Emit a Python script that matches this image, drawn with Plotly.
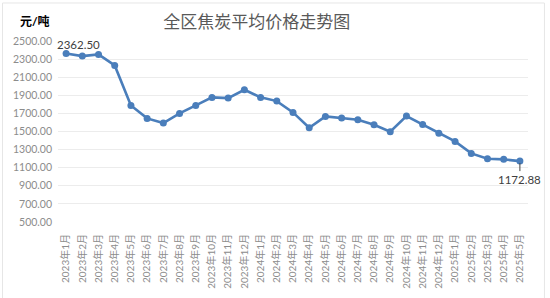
import plotly.graph_objects as go

months = [
    "2023年1月", "2023年2月", "2023年3月", "2023年4月", "2023年5月", "2023年6月",
    "2023年7月", "2023年8月", "2023年9月", "2023年10月", "2023年11月", "2023年12月",
    "2024年1月", "2024年2月", "2024年3月", "2024年4月", "2024年5月", "2024年6月",
    "2024年7月", "2024年8月", "2024年9月", "2024年10月", "2024年11月", "2024年12月",
    "2025年1月", "2025年2月", "2025年3月", "2025年4月", "2025年5月",
]
prices = [
    2362.50, 2333, 2352, 2230, 1788, 1645,
    1593, 1700, 1788, 1877, 1869, 1961,
    1877, 1836, 1711, 1541, 1667, 1648,
    1629, 1574, 1497, 1670, 1578, 1482,
    1390, 1258, 1198, 1192, 1172.88,
]
y_ticks = [500, 700, 900, 1100, 1300, 1500, 1700, 1900, 2100, 2300, 2500]

FONT = "Lato, 'Noto Sans CJK SC', sans-serif"
LINE_COLOR = "#4a7ebb"

fig = go.Figure()
fig.add_trace(go.Scatter(
    x=months, y=prices, mode="lines+markers",
    line=dict(color=LINE_COLOR, width=2.6),
    marker=dict(color=LINE_COLOR, size=7),
    hoverinfo="x+y", showlegend=False,
))

fig.add_annotation(x=months[0], y=prices[0], text=f"{prices[0]:.2f}",
                   showarrow=False, xshift=12, yshift=9,
                   font=dict(family=FONT, size=11.5, color="#404040"))
fig.add_annotation(x=months[-1], y=prices[-1], text=f"{prices[-1]:.2f}",
                   showarrow=True, arrowhead=0, arrowwidth=1, arrowcolor="#404040",
                   ax=0, ay=18, standoff=2,
                   font=dict(family=FONT, size=11.5, color="#404040"))
fig.add_annotation(xref="paper", yref="paper", x=-0.048, y=1.105,
                   xanchor="center", yanchor="middle",
                   text="<b>元/吨</b>", showarrow=False,
                   font=dict(family=FONT, size=12, color="#000000"))

fig.update_layout(
    width=550, height=298,
    margin=dict(l=57.6, r=22, t=41, b=76, autoexpand=False),
    paper_bgcolor="white", plot_bgcolor="white",
    title=dict(text="全区焦炭平均价格走势图", x=0.467, y=0.926,
               xanchor="center", yanchor="middle",
               font=dict(family=FONT, size=17, color="#595959")),
    xaxis=dict(type="category", tickangle=-90, showgrid=False, showline=False,
               automargin=False, range=[-0.5, len(months) - 0.5],
               ticks="", tickfont=dict(family=FONT, size=10, color="#8c8c8c"),
               ticklabelstandoff=9),
    yaxis=dict(range=[500, 2500], tickvals=y_ticks, automargin=False,
               ticktext=[f"{v:.2f}" for v in y_ticks],
               showgrid=True, gridcolor="#ececec", gridwidth=1, zeroline=False,
               showline=False, ticks="", ticklabelstandoff=5,
               tickfont=dict(family=FONT, size=10.5, color="#8c8c8c")),
    shapes=[dict(type="rect", xref="paper", yref="paper",
                 x0=-0.118, x1=1.035, y0=-0.45, y1=1.21,
                 line=dict(color="#e6e6e6", width=1), layer="below")],
)

fig.write_html("out.html")
